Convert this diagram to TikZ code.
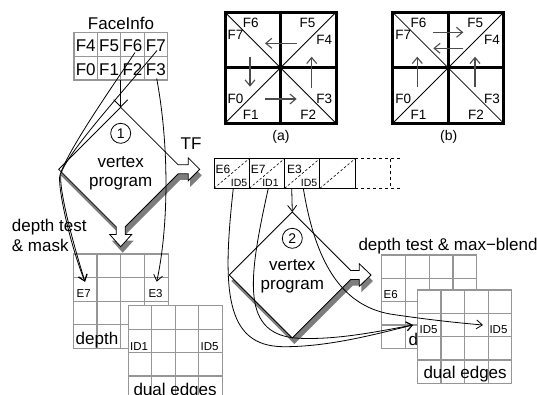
\documentclass[tikz,border=0pt]{standalone}
\usepackage{fontspec}
\setmainfont{Liberation Sans}
\usetikzlibrary{arrows.meta}
\definecolor{gridgray}{RGB}{150,150,150}
\definecolor{shadowgray}{RGB}{125,125,125}
\newcommand\fsz[1]{\fontsize{#1}{#1}\selectfont}
\newcommand\gridbox[4]{%
  \filldraw[gridline, fill=white] (#1,#2) rectangle ({#1+4*#3},{#2+4*#4});
  \foreach \k in {1,2,3} {
    \draw[gridline] ({#1+\k*#3},#2) -- ({#1+\k*#3},{#2+4*#4});
    \draw[gridline] (#1,{#2+\k*#4}) -- ({#1+4*#3},{#2+\k*#4});
  }}
\newcommand\dmdone[1]{\path[#1] (120.7,107.3) -- (178.2,164.8) -- (188.2,164.8) -- (188.2,157.8) -- (199.7,169.3) -- (188.2,180.8) -- (188.2,173.8) -- (178.2,173.8) -- (125.2,226.8) -- (125.2,234.5) -- (131.7,234.5) -- (120.7,246.7) -- (109.7,234.5) -- (116.2,234.5) -- (116.2,226.8) -- (58.7,169.3) -- cycle;}
\newcommand\dmdtwo[1]{\path[#1] (292.3,212) -- (350.8,270.5) -- (359.3,270.5) -- (359.3,263.7) -- (371,275) -- (359.3,286.3) -- (359.3,279.5) -- (350.8,279.5) -- (292.3,338) -- (229.3,275) -- cycle;}
\newcommand\facepanel[3]{% shift x, name prefix, caption
  \begin{scope}[xshift=#1]
    \draw[line width=0.8pt] (225,12.3) -- (336,123.3);
    \draw[line width=0.8pt] (225,123.3) -- (336,12.3);
    \draw[line width=3pt] (225,12.3) rectangle (336,123.3);
    \draw[line width=3pt] (280.5,12.3) -- (280.5,123.3);
    \draw[line width=3pt] (225,67.8) -- (336,67.8);
    \node[plbl] (#2f6) at (250.8,23.3) {F6};
    \node[plbl] (#2f7) at (235.5,35) {F7};
    \node[plbl] (#2f5) at (307.5,23.3) {F5};
    \node[plbl] (#2f4) at (324.2,40) {F4};
    \node[plbl] (#2f0) at (235.5,99.3) {F0};
    \node[plbl] (#2f1) at (250.8,115) {F1};
    \node[plbl] (#2f3) at (324.2,99.3) {F3};
    \node[plbl] (#2f2) at (308.3,115) {F2};
    \node[font=\fsz{14}, inner sep=0pt] (#2cap) at (281,136.7) {#3};
  \end{scope}}
\begin{document}
\begin{tikzpicture}[x=1pt, y=-1pt,
  gridline/.style={draw=gridgray, line width=1.2pt},
  plbl/.style={inner sep=0pt, font=\fsz{13.5}},
  bigt/.style={inner sep=0pt, font=\fsz{17}},
  smallt/.style={inner sep=0pt, anchor=base west, font=\fsz{11.5}},
  tinyt/.style={inner sep=0pt, font=\fsz{10.5}},
  conn/.style={line width=0.8pt, -{Straight Barb[length=6pt, width=9pt]}},
  parrow/.style={line width=1.1pt, draw=black!70, -{Straight Barb[length=6pt, width=10pt]}},
  tfcell/.style={line width=1pt}]
\useasboundingbox (0,0) rectangle (537,394);

% ---------- FaceInfo table ----------
\node[bigt] (faceinfo) at (121,23) {FaceInfo};
\begin{scope}
  \draw[gridline] (74,32.3) rectangle (167.6,80);
  \foreach \k in {1,2,3} \draw[gridline] ({74+\k*23.4},32.3) -- ({74+\k*23.4},80);
  \draw[gridline] (74,56.15) -- (167.6,56.15);
\end{scope}
\node[bigt, anchor=base] (fi4) at (85.7,51.7) {F4};
\node[bigt, anchor=base] (fi5) at (109.1,51.7) {F5};
\node[bigt, anchor=base] (fi6) at (132.5,51.7) {F6};
\node[bigt, anchor=base] (fi7) at (155.9,51.7) {F7};
\node[bigt, anchor=base] (fi0) at (85.7,75.8) {F0};
\node[bigt, anchor=base] (fi1) at (109.1,75.8) {F1};
\node[bigt, anchor=base] (fi2) at (132.5,75.8) {F2};
\node[bigt, anchor=base] (fi3) at (155.9,75.8) {F3};

% ---------- panels (a), (b) ----------
\facepanel{0pt}{pa}{(a)}
\facepanel{167.7pt}{pb}{(b)}
\draw[parrow] (296.7,43.3) -- (265,43.3);
\draw[parrow] (250,56.7) -- (250,86.7);
\draw[parrow] (265,99) -- (296.7,99);
\draw[parrow] (311.7,88.3) -- (311.7,56.7);
\draw[parrow] (433.3,32.3) -- (463.3,32.3);
\draw[parrow] (463.3,48.3) -- (433.3,48.3);
\draw[parrow] (417.3,87.3) -- (417.3,56.7);
\draw[parrow] (475,87.3) -- (475,56.7);

% ---------- vertex program 1 ----------
\dmdone{fill=shadowgray, shift={(2,6)}}
\dmdone{draw=black, line width=0.8pt, fill=white}
\coordinate (d1t) at (120.7,107.3);
\node[circle, draw, line width=0.8pt, inner sep=0pt, minimum size=20pt, font=\fsz{14}] (c1) at (120.7,133.3) {1};
\node[bigt, anchor=base] (vp1a) at (120.7,167.3) {vertex};
\node[bigt, anchor=base] (vp1b) at (120.7,186) {program};
\node[bigt] (tf) at (191,143.3) {TF};
\node[bigt, anchor=base west] (dtm1) at (11.7,231.7) {depth test};
\node[bigt, anchor=base west] (dtm2) at (11.7,251) {\& mask};

% ---------- left grids ----------
\gridbox{73.3}{254}{23.75}{23.6}
\node[smallt] (ge7) at (76.5,297.3) {E7};
\node[smallt] (ge3) at (148.3,297.3) {E3};
\node[bigt, anchor=base west] (gdepth1) at (75.5,344.8) {depth};
\gridbox{128.3}{305.7}{23.5}{23.4}
\node[smallt] (gid1) at (130,350) {ID1};
\node[smallt] (gid5a) at (200.5,350) {ID5};
\node[bigt, anchor=base west] (gdual1) at (133.3,395.6) {dual edges};

% ---------- TF buffer ----------
\foreach \i in {0,1,2,3} {
  \draw[tfcell] ({214+\i*35.33},158.5) rectangle ({214+(\i+1)*35.33},188.3);
  \draw[line width=0.6pt, dash pattern=on 2.5pt off 2pt] ({214+\i*35.33},188.3) -- ({214+(\i+1)*35.33},158.5);
}
\draw[tfcell, dashed] (355.3,158.5) -- (402,158.5);
\draw[tfcell, dashed] (355.3,188.3) -- (402,188.3);
\draw[tfcell, dashed] (390.7,158.5) -- (390.7,188.3);
\node[inner sep=0pt, anchor=base west, font=\fsz{12}] (te6) at (215.3,173.3) {E6};
\node[tinyt, anchor=base east] (ti5a) at (247.5,186) {ID5};
\node[inner sep=0pt, anchor=base west, font=\fsz{12}] (te7) at (250.7,173.3) {E7};
\node[tinyt, anchor=base east] (ti1) at (278.8,186) {ID1};
\node[inner sep=0pt, anchor=base west, font=\fsz{12}] (te3) at (286.8,173.3) {E3};
\node[tinyt, anchor=base east] (ti5b) at (317.5,186) {ID5};

% ---------- vertex program 2 ----------
\dmdtwo{fill=shadowgray, shift={(2,6)}}
\dmdtwo{draw=black, line width=0.8pt, fill=white}
\coordinate (d2t) at (292.3,212);
\node[circle, draw, line width=0.8pt, inner sep=0pt, minimum size=20pt, font=\fsz{14}] (c2) at (292.3,238.3) {2};
\node[bigt, anchor=base] (vp2a) at (292.3,270.7) {vertex};
\node[bigt, anchor=base] (vp2b) at (292.3,289) {program};

% ---------- right grids ----------
\node[bigt, anchor=base west] (dtmb) at (358.3,250.5) {depth test \& max\char"2212 blend};
\gridbox{381.7}{255}{23.75}{23.33}
\node[smallt] (re6) at (383.5,298) {E6};
\node[smallt] (re3) at (455,298) {E3};
\node[bigt, anchor=base west] (rdepth) at (408.5,345) {depth};
\gridbox{417.3}{290}{23.6}{23.33}
\node[smallt] (rid5a) at (419.5,333.3) {ID5};
\node[smallt] (rid5b) at (489.3,333.3) {ID5};
\node[bigt, anchor=base west] (rdual) at (423.3,378.3) {dual edges};

% ---------- connectors ----------
\coordinate (fitb) at (120.7,80);
\coordinate (f6s) at (135,52.5);
\coordinate (f7s) at (157,50.5);
\coordinate (f3s) at (156.7,78.5);
\coordinate (e7t) at (85,281.7);
\coordinate (e3t) at (156.7,281.7);
\draw[line width=0.8pt, -{Straight Barb[length=7pt, width=14pt]}] (fitb) -- (d1t);
\draw[conn] (f6s) .. controls (110,90) and (68,150) .. (60,175) .. controls (57,185) and (70,245) .. (e7t);
\draw[conn] (f7s) .. controls (120,95) and (70,150) .. (61.5,172) .. controls (57,183) and (72,240) .. (e7t);
\draw[conn] (f3s) .. controls (170,150) and (168,230) .. (e3t);

\coordinate (e6s) at (233.3,188.3);
\coordinate (e7s) at (268.3,188.3);
\coordinate (e3s) at (291.7,188.3);
\coordinate (e3is) at (303.3,188.3);
\coordinate (id5at) at (413,325);
\coordinate (id5bt) at (483,325);
\draw[conn] (e3s) -- (d2t);
\draw[conn] (e6s) .. controls (222,290) and (225,346) .. (283,346.7) .. controls (330,347) and (380,333) .. (id5at);
\draw[conn] (e7s) .. controls (248,280) and (240,336) .. (300,338.3) .. controls (340,340) and (385,330) .. (id5at);
\draw[conn] (e3is) .. controls (315,260) and (340,305) .. (390,314) .. controls (430,320) and (460,323) .. (id5bt);
\end{tikzpicture}
\end{document}
